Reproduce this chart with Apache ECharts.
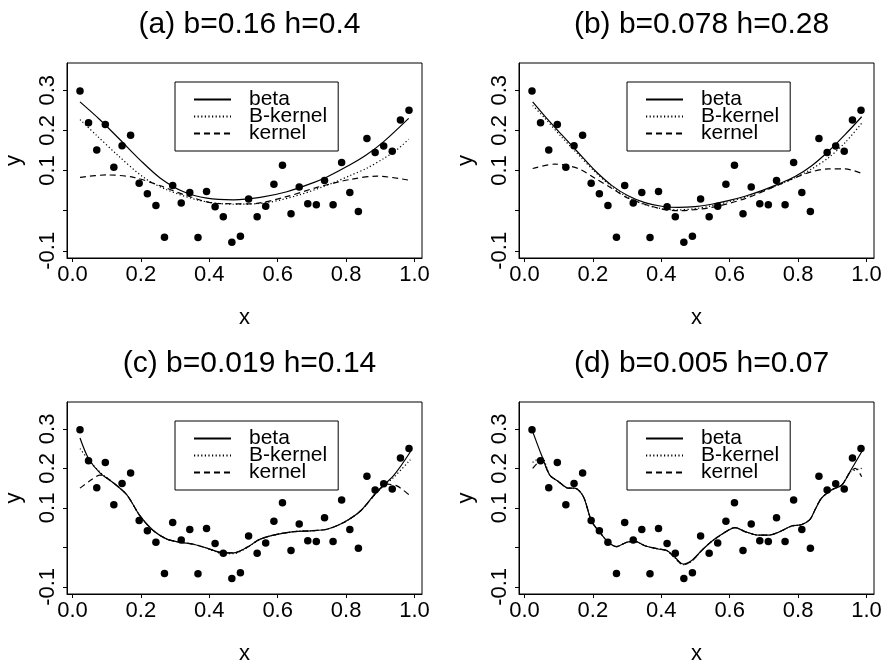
<!DOCTYPE html>
<html>
<head>
<meta charset="utf-8">
<script src="https://cdn.jsdelivr.net/npm/echarts@6/dist/echarts.min.js"></script>
<style>
  html, body { margin: 0; padding: 0; background: #fff; }
  #main { width: 890px; height: 666px; }
</style>
</head>
<body>
<div id="main"></div>
<script>
// observed points (same in all four panels)
var xObs = [0.022, 0.047, 0.071, 0.096, 0.121, 0.145, 0.170, 0.195, 0.219, 0.244,
            0.269, 0.293, 0.318, 0.343, 0.367, 0.392, 0.417, 0.441, 0.466, 0.491,
            0.515, 0.540, 0.565, 0.589, 0.614, 0.639, 0.663, 0.688, 0.713, 0.737,
            0.762, 0.787, 0.811, 0.836, 0.861, 0.885, 0.910, 0.935, 0.959, 0.984]
var yObs = [0.298, 0.219, 0.151, 0.215, 0.108, 0.162, 0.188, 0.068, 0.042, 0.013,
            -0.066, 0.063, 0.019, 0.045, -0.067, 0.048, 0.010, -0.015, -0.079, -0.064,
            0.029, -0.015, 0.011, 0.066, 0.113, -0.008, 0.059, 0.017, 0.015, 0.075,
            0.015, 0.120, 0.045, -0.002, 0.180, 0.145, 0.161, 0.148, 0.226, 0.250]

var xTicks = [0, 0.2, 0.4, 0.6, 0.8, 1.0]
var yTicks = [-0.1, 0, 0.1, 0.2, 0.3]
var yLabels = [-0.1, 0.1, 0.2, 0.3]
var titles = ['(a) b=0.16 h=0.4', '(b) b=0.078 h=0.28', '(c) b=0.019 h=0.14', '(d) b=0.005 h=0.07']
var names = ['beta', 'B-kernel', 'kernel']

// (a)
var betaA = [[0.022,0.271],[0.081,0.226],[0.140,0.176],[0.198,0.126],[0.257,0.081],[0.325,0.047],
             [0.393,0.031],[0.471,0.027],[0.549,0.033],[0.627,0.047],[0.705,0.070],[0.744,0.084],
             [0.813,0.115],[0.861,0.140],[0.910,0.172],[0.983,0.230]]
var bkerA = [[0.022,0.227],[0.070,0.188],[0.130,0.140],[0.208,0.083],[0.276,0.052],[0.374,0.025],
             [0.471,0.016],[0.569,0.020],[0.666,0.040],[0.764,0.070],[0.813,0.088],[0.861,0.106],
             [0.910,0.130],[0.949,0.152],[0.983,0.178]]
var kerA = [[0.022,0.083],[0.100,0.089],[0.179,0.083],[0.257,0.062],[0.325,0.040],[0.422,0.018],
            [0.520,0.017],[0.618,0.033],[0.715,0.058],[0.813,0.078],[0.891,0.086],[0.984,0.076]]

// (b)
var betaB = [[0.024,0.271],[0.060,0.235],[0.108,0.190],[0.157,0.145],[0.206,0.100],[0.255,0.063],
             [0.303,0.037],[0.352,0.020],[0.401,0.011],[0.450,0.008],[0.499,0.010],[0.547,0.016],
             [0.596,0.025],[0.645,0.036],[0.694,0.050],[0.742,0.066],[0.791,0.085],[0.840,0.112],
             [0.889,0.148],[0.938,0.190],[0.986,0.234]]
var bkerB = [[0.024,0.262],[0.060,0.230],[0.108,0.184],[0.157,0.140],[0.206,0.097],[0.255,0.060],
             [0.303,0.033],[0.352,0.015],[0.401,0.005],[0.450,0.002],[0.499,0.005],[0.547,0.012],
             [0.596,0.022],[0.645,0.034],[0.694,0.048],[0.742,0.064],[0.791,0.082],[0.840,0.104],
             [0.889,0.132],[0.938,0.170],[0.986,0.218]]
var kerB = [[0.024,0.105],[0.089,0.116],[0.157,0.105],[0.206,0.081],[0.255,0.056],[0.303,0.031],
            [0.401,0.004],[0.450,0.000],[0.547,0.008],[0.645,0.030],[0.742,0.064],[0.791,0.082],
            [0.840,0.097],[0.889,0.104],[0.938,0.104],[0.986,0.093]]

// (c)
var betaC = [[0.022,0.277],[0.047,0.225],[0.081,0.188],[0.120,0.163],[0.159,0.133],[0.198,0.079],
             [0.237,0.042],[0.276,0.021],[0.315,0.013],[0.354,0.008],[0.393,-0.002],[0.442,-0.014],
             [0.471,-0.014],[0.510,0.000],[0.549,0.021],[0.598,0.033],[0.647,0.040],[0.696,0.042],
             [0.744,0.046],[0.793,0.063],[0.842,0.092],[0.891,0.142],[0.940,0.183],[0.988,0.242]]
var bkerC = [[0.022,0.250],[0.047,0.222],[0.081,0.190],[0.120,0.163],[0.159,0.133],[0.198,0.079],
             [0.237,0.042],[0.276,0.021],[0.315,0.013],[0.354,0.008],[0.393,-0.002],[0.442,-0.016],
             [0.471,-0.016],[0.510,-0.001],[0.549,0.021],[0.598,0.033],[0.647,0.040],[0.696,0.042],
             [0.744,0.046],[0.793,0.063],[0.842,0.092],[0.891,0.140],[0.940,0.178],[0.988,0.222]]
var kerC = [[0.022,0.150],[0.050,0.168],[0.081,0.183],[0.120,0.163],[0.159,0.133],[0.198,0.079],
            [0.237,0.042],[0.276,0.021],[0.315,0.013],[0.354,0.008],[0.393,-0.002],[0.442,-0.014],
            [0.471,-0.014],[0.510,0.000],[0.549,0.021],[0.598,0.033],[0.647,0.040],[0.696,0.042],
            [0.744,0.046],[0.793,0.063],[0.842,0.092],[0.891,0.140],[0.920,0.160],[0.950,0.155],
            [0.984,0.133]]

// (d)
var betaD = [[0.024,0.293],[0.050,0.233],[0.074,0.183],[0.099,0.167],[0.128,0.150],[0.147,0.150],
             [0.172,0.129],[0.196,0.067],[0.225,0.033],[0.245,0.013],[0.269,0.002],[0.299,0.013],
             [0.323,0.015],[0.352,0.004],[0.391,-0.004],[0.416,-0.008],[0.440,-0.025],[0.464,-0.042],
             [0.489,-0.033],[0.518,-0.008],[0.547,0.015],[0.577,0.033],[0.616,0.050],[0.645,0.040],
             [0.684,0.031],[0.713,0.031],[0.742,0.038],[0.781,0.054],[0.811,0.058],[0.835,0.071],
             [0.850,0.096],[0.869,0.125],[0.899,0.146],[0.928,0.158],[0.952,0.192],[0.986,0.242]]
var bkerD = [[0.024,0.215],[0.050,0.228],[0.074,0.183],[0.099,0.167],[0.128,0.150],[0.147,0.150],
             [0.172,0.129],[0.196,0.067],[0.225,0.033],[0.245,0.013],[0.269,0.002],[0.299,0.013],
             [0.323,0.015],[0.352,0.004],[0.391,-0.004],[0.416,-0.008],[0.440,-0.027],[0.464,-0.044],
             [0.489,-0.035],[0.518,-0.008],[0.547,0.015],[0.577,0.033],[0.616,0.050],[0.645,0.040],
             [0.684,0.031],[0.713,0.031],[0.742,0.038],[0.781,0.054],[0.811,0.058],[0.835,0.071],
             [0.850,0.096],[0.869,0.125],[0.899,0.146],[0.928,0.158],[0.952,0.190],[0.986,0.200]]
var kerD = [[0.024,0.200],[0.050,0.221],[0.074,0.183],[0.099,0.167],[0.128,0.150],[0.147,0.150],
            [0.172,0.129],[0.196,0.067],[0.225,0.033],[0.245,0.013],[0.269,0.002],[0.299,0.013],
            [0.323,0.015],[0.352,0.004],[0.391,-0.004],[0.416,-0.008],[0.440,-0.027],[0.464,-0.044],
            [0.489,-0.035],[0.518,-0.008],[0.547,0.015],[0.577,0.033],[0.616,0.050],[0.645,0.040],
            [0.684,0.031],[0.713,0.031],[0.742,0.038],[0.781,0.054],[0.811,0.058],[0.835,0.071],
            [0.850,0.096],[0.869,0.125],[0.899,0.146],[0.928,0.158],[0.952,0.190],[0.967,0.200],
            [0.986,0.179]]

var curves = [[betaA, bkerA, kerA], [betaB, bkerB, kerB], [betaC, bkerC, kerC], [betaD, bkerD, kerD]]

var FONT = 'Liberation Sans'
var pos = [[67, 63], [519, 63], [67, 402], [519, 402]]
var W = 355, H = 195

var points = xObs.map(function (x, i) { return [x, yObs[i]] })
var lineTypes = ['solid', [1.2, 2.4], [6, 4]]

var option = {
  backgroundColor: '#fff',
  animation: false,
  title: [], grid: [], xAxis: [], yAxis: [], legend: [], series: []
}

for (var p = 0; p < 4; p++) {
  var gl = pos[p][0], gt = pos[p][1]
  option.title.push({
    text: titles[p], left: gl + W / 2, top: gt - 58, textAlign: 'center',
    textStyle: { fontFamily: FONT, fontSize: 30, fontWeight: 'normal', color: '#000' }
  })
  option.grid.push({
    left: gl, top: gt, width: W, height: H,
    show: true, borderColor: '#000', borderWidth: 1, backgroundColor: 'transparent'
  })
  option.xAxis.push({
    type: 'value', gridIndex: p, min: -0.016, max: 1.022,
    name: 'x', nameLocation: 'middle', nameGap: 49,
    nameTextStyle: { fontFamily: FONT, fontSize: 22, color: '#000' },
    axisLine: { show: true, onZero: false, lineStyle: { color: '#000', width: 1 } },
    axisTick: { show: true, length: 4, customValues: xTicks, lineStyle: { color: '#000' } },
    axisLabel: {
      margin: 6, customValues: xTicks, fontFamily: FONT, fontSize: 22, color: '#000',
      formatter: function (v) { return v.toFixed(1) }
    },
    splitLine: { show: false }
  })
  option.yAxis.push({
    type: 'value', gridIndex: p, min: -0.118, max: 0.368,
    name: 'y', nameLocation: 'middle', nameGap: 42, nameRotate: 90,
    nameTextStyle: { fontFamily: FONT, fontSize: 22, color: '#000' },
    axisLine: { show: true, onZero: false, lineStyle: { color: '#000', width: 1 } },
    axisTick: { show: true, length: 4, customValues: yTicks, lineStyle: { color: '#000' } },
    axisLabel: {
      margin: 8, rotate: 90, customValues: yLabels, fontFamily: FONT, fontSize: 22, color: '#000',
      formatter: function (v) { return v.toFixed(1) }
    },
    splitLine: { show: false }
  })
  option.legend.push({
    data: names, orient: 'vertical', left: gl + 108, top: gt + 19,
    selectedMode: false, backgroundColor: '#fff',
    borderColor: '#000', borderWidth: 1, borderRadius: 0,
    padding: [7, 11, 7, 18], itemWidth: 37, itemHeight: 17, itemGap: -4,
    itemStyle: { opacity: 0, color: 'transparent', borderWidth: 0 },
    textStyle: { fontFamily: FONT, fontSize: 21, color: '#000', lineHeight: 17, padding: [0, 0, 0, 13] }
  })
  option.series.push({
    type: 'scatter', xAxisIndex: p, yAxisIndex: p, data: points,
    symbol: 'circle', symbolSize: 7.5, itemStyle: { color: '#000', opacity: 1 }, z: 3
  })
  for (var k = 0; k < 3; k++) {
    option.series.push({
      name: names[k], type: 'line', xAxisIndex: p, yAxisIndex: p,
      data: curves[p][k], smooth: 0.3, symbol: 'none', z: 2,
      lineStyle: { color: '#000', width: 1.2, type: lineTypes[k] },
      itemStyle: { color: '#000' }
    })
  }
}

var myChart = echarts.init(document.getElementById('main'), null, { renderer: 'canvas' })
myChart.setOption(option)
</script>
</body>
</html>
